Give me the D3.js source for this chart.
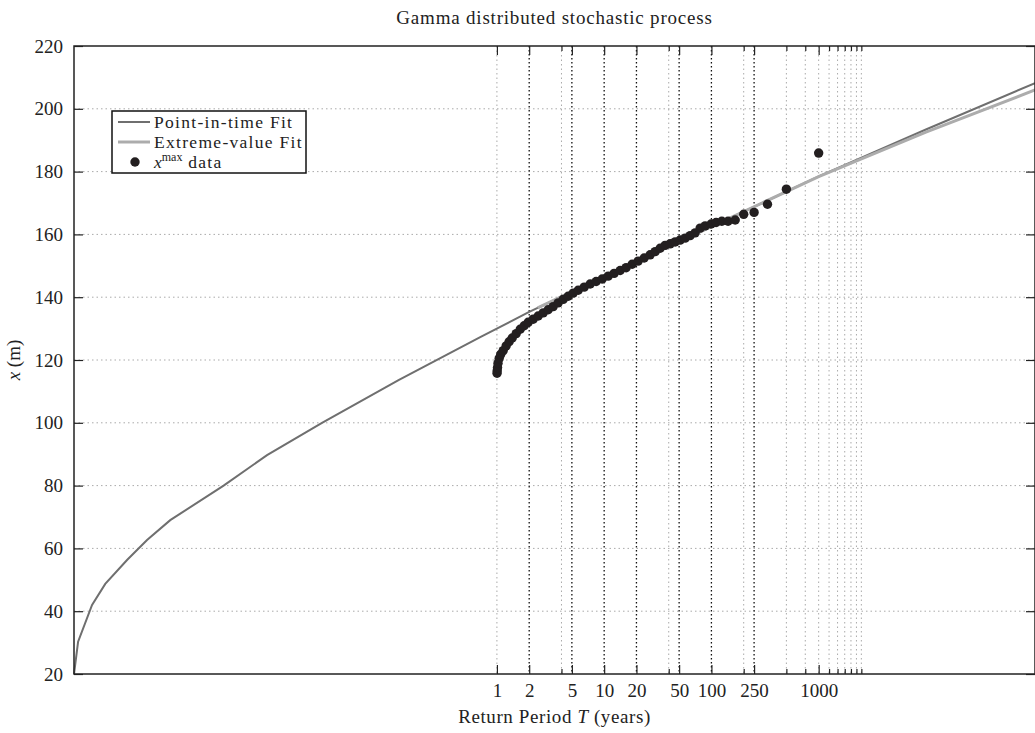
<!DOCTYPE html>
<html>
<head>
<meta charset="utf-8">
<script src="https://cdn.jsdelivr.net/npm/d3@7"></script>
<style>
  body { margin: 0; background: #fff; }
  svg { display: block; }
  text, tspan { font-family: "Liberation Serif", "Times New Roman", serif; fill: #222; }
</style>
</head>
<body>
<svg id="chart"></svg>
<script>
const width = 1035,
  height = 733;

// Tick values of the return-period axis
const labelTicks = [1, 2, 5, 10, 20, 50, 100, 250, 1000];
const darkGrid = [2, 5, 10, 20, 50, 100, 250];
const lightGrid = [1, 4, 40, 200, 500, 750, 1000, 1250, 1500, 1750, 2000, 2250, 2500];
const yTicks = [20, 40, 60, 80, 100, 120, 140, 160, 180, 200, 220];

// Point-in-time fit (return period T, x)
const pitT = [1.14e-4, 1.245e-4, 1.68e-4, 2.23e-4, 3.56e-4, 5.47e-4, 9.0e-4, 2.83e-3, 7.19e-3, 0.0234, 0.121, 0.699, 2.0, 10, 100, 1000, 10000, 104000];
const pitX = [20, 30.3, 42.0, 48.7, 56.3, 62.7, 69.0, 80, 89.7, 100, 113.6, 127.3, 135.3, 146.6, 162.4, 178.5, 193.4, 208.2];

// Extreme-value fit
const evT = [2.4, 10, 100, 1000, 10000, 104000];
const evX = [136.6, 146.6, 162.5, 178.4, 192.6, 206.0];

// x^max data (return period, value)
const dataT = [1.003, 1.006, 1.013, 1.024, 1.05, 1.085, 1.145, 1.22, 1.30, 1.389, 1.513, 1.649, 1.796, 1.957,
  2.179, 2.426, 2.701, 3.007, 3.347, 3.727, 4.149, 4.619, 5.142, 5.725, 6.511, 7.404, 8.42, 9.58,
  10.9, 12.39, 14.1, 16.03, 18.24, 20.74, 23.6, 26.83, 29.88, 33.26, 37.03, 41.22, 45.89, 51.09,
  56.88, 63.32, 70.5, 78.5, 87.4, 99.4, 110.6, 125, 142.9, 166.7, 200, 250, 333.3, 500, 1000];
const dataX = [115.8, 116.6, 117.6, 119, 120.5, 121.8, 123, 124.5, 125.8, 127, 128.4, 129.8, 130.9, 132,
  133, 134, 135, 136, 137, 138.2, 139.3, 140.3, 141.3, 142.2, 143.2, 144.2, 145, 145.8,
  146.7, 147.6, 148.5, 149.4, 150.5, 151.5, 152.5, 153.5, 154.5, 155.6, 156.5, 157, 157.6, 158.2,
  158.8, 159.6, 160.5, 162, 162.7, 163.3, 163.8, 164.2, 164.2, 164.6, 166.4, 167.0, 169.6, 174.4, 185.9];

const plotLeft = 74, plotRight = 1035, plotTop = 46, plotBottom = 674;

const svg = d3.select("#chart").attr("width", width).attr("height", height);

const x = d3.scaleLog().domain([1.14e-4, 1.04e5]).range([plotLeft, plotRight]);
const y = d3.scaleLinear().domain([20, 220]).range([plotBottom, plotTop]);

// horizontal grid
svg.append("g")
  .selectAll("line")
  .data(yTicks.slice(1, -1))
  .join("line")
  .attr("x1", plotLeft).attr("x2", plotRight)
  .attr("y1", (d) => y(d)).attr("y2", (d) => y(d))
  .attr("stroke", "#aaa").attr("stroke-width", 1)
  .attr("stroke-dasharray", "1.5,3");

// light vertical grid
svg.append("g")
  .selectAll("line")
  .data(lightGrid)
  .join("line")
  .attr("x1", (d) => x(d)).attr("x2", (d) => x(d))
  .attr("y1", plotTop).attr("y2", plotBottom)
  .attr("stroke", "#aaa").attr("stroke-width", 1)
  .attr("stroke-dasharray", "1.5,3");

// dark vertical grid
svg.append("g")
  .selectAll("line")
  .data(darkGrid)
  .join("line")
  .attr("x1", (d) => x(d)).attr("x2", (d) => x(d))
  .attr("y1", plotTop).attr("y2", plotBottom)
  .attr("stroke", "#111").attr("stroke-width", 1.3)
  .attr("stroke-dasharray", "1.5,2.5");

const line = d3.line()
  .x((d) => x(d[0]))
  .y((d) => y(d[1]));

// Point-in-time fit
svg.append("path")
  .datum(d3.zip(pitT, pitX))
  .attr("fill", "none")
  .attr("stroke", "#6f6f6f")
  .attr("stroke-width", 2)
  .attr("d", line);

// Extreme-value fit
svg.append("path")
  .datum(d3.zip(evT, evX))
  .attr("fill", "none")
  .attr("stroke", "#acacac")
  .attr("stroke-width", 3)
  .attr("d", line);

// data points
svg.append("g")
  .selectAll("circle")
  .data(d3.zip(dataT, dataX))
  .join("circle")
  .attr("cx", (d) => x(d[0]))
  .attr("cy", (d) => y(d[1]))
  .attr("r", 4.7)
  .attr("fill", "#231f20");

// axes
const fontSize = "19px";
const minorTicks = lightGrid.filter((d) => !labelTicks.includes(d));

const bottomAxis = svg.append("g")
  .attr("transform", `translate(0,${plotBottom})`)
  .call(d3.axisBottom(x).tickValues(labelTicks).tickFormat(d3.format("d")).tickSize(-9).tickPadding(10));
bottomAxis.selectAll("text").style("font-size", fontSize);

svg.append("g")
  .attr("transform", `translate(0,${plotBottom})`)
  .call(d3.axisBottom(x).tickValues(minorTicks).tickFormat("").tickSize(-5));

svg.append("g")
  .attr("transform", `translate(0,${plotTop})`)
  .call(d3.axisTop(x).tickValues(labelTicks).tickFormat("").tickSize(-9));
svg.append("g")
  .attr("transform", `translate(0,${plotTop})`)
  .call(d3.axisTop(x).tickValues(minorTicks).tickFormat("").tickSize(-5));

const leftAxis = svg.append("g")
  .attr("transform", `translate(${plotLeft},0)`)
  .call(d3.axisLeft(y).tickValues(yTicks).tickSize(-9).tickPadding(11));
leftAxis.selectAll("text").style("font-size", fontSize);

svg.append("g")
  .attr("transform", `translate(${plotRight},0)`)
  .call(d3.axisRight(y).tickValues(yTicks).tickFormat("").tickSize(-9));

svg.selectAll(".domain").remove();
svg.selectAll(".tick line").attr("stroke", "#222").attr("stroke-width", 1.2);
svg.selectAll(".tick text").attr("fill", "#222").style("font-family", '"Liberation Serif", serif');

// frame
svg.append("rect")
  .attr("x", plotLeft).attr("y", plotTop)
  .attr("width", plotRight - plotLeft).attr("height", plotBottom - plotTop)
  .attr("fill", "none").attr("stroke", "#222").attr("stroke-width", 1.5);

// legend
const legendFont = "17.5px";
const legend = svg.append("g");
legend.append("rect")
  .attr("x", 112).attr("y", 111).attr("width", 194).attr("height", 62)
  .attr("fill", "#fff").attr("stroke", "#111").attr("stroke-width", 1.5);

const legendRows = [
  { label: "Point-in-time Fit", type: "line", color: "#6f6f6f", w: 2 },
  { label: "Extreme-value Fit", type: "line", color: "#acacac", w: 3 },
  { label: "data", type: "dot" }
];
legendRows.forEach((r, i) => {
  const cy = 122 + i * 20;
  if (r.type === "line") {
    legend.append("line")
      .attr("x1", 118).attr("x2", 150).attr("y1", cy).attr("y2", cy)
      .attr("stroke", r.color).attr("stroke-width", r.w);
    legend.append("text")
      .attr("x", 154).attr("y", cy + 6)
      .style("font-size", legendFont).style("letter-spacing", "1.3px")
      .text(r.label);
  } else {
    legend.append("circle").attr("cx", 135).attr("cy", cy).attr("r", 4.7).attr("fill", "#231f20");
    const t = legend.append("text").attr("x", 154).attr("y", cy + 6).style("font-size", legendFont);
    t.append("tspan").style("font-style", "italic").text("x");
    t.append("tspan").attr("dy", -7).style("font-size", "12px").text("max");
    t.append("tspan").attr("dy", 7).style("letter-spacing", "1.3px").text(" data");
  }
});

// title
svg.append("text")
  .attr("x", (plotLeft + plotRight) / 2).attr("y", 24)
  .attr("text-anchor", "middle")
  .style("font-size", fontSize).style("letter-spacing", "0.8px")
  .text("Gamma distributed stochastic process");

// x label
const xl = svg.append("text")
  .attr("x", (plotLeft + plotRight) / 2).attr("y", 723)
  .attr("text-anchor", "middle")
  .style("font-size", fontSize).style("letter-spacing", "0.6px");
xl.append("tspan").text("Return Period ");
xl.append("tspan").style("font-style", "italic").text("T");
xl.append("tspan").text(" (years)");

// y label
const yl = svg.append("text")
  .attr("transform", "translate(20,360) rotate(-90)")
  .attr("text-anchor", "middle")
  .style("font-size", fontSize);
yl.append("tspan").style("font-style", "italic").text("x");
yl.append("tspan").text(" (m)");
</script>
</body>
</html>
